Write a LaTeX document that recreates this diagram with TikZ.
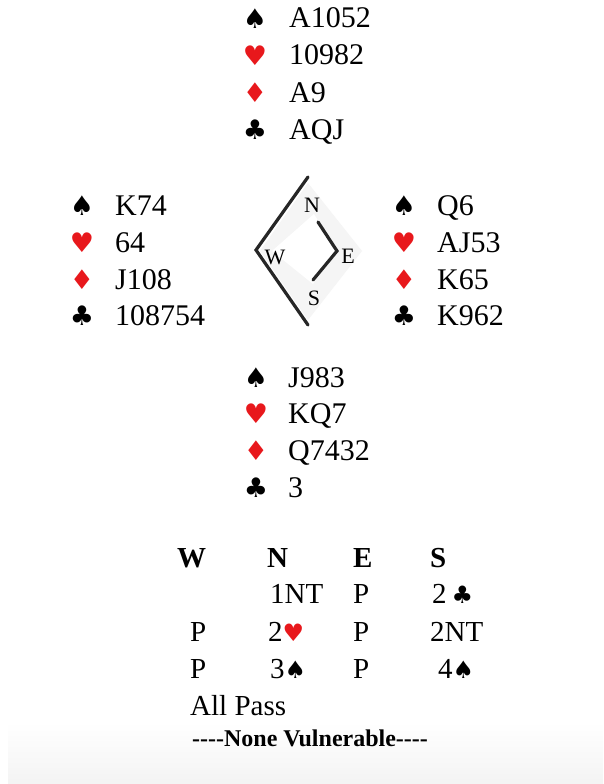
\documentclass[tikz,border=0pt]{standalone}
\usepackage{fontspec}
\setmainfont{Liberation Serif}
\newfontfamily\symfont{DejaVu Sans}
\definecolor{suitred}{RGB}{232,24,28}
\begin{document}
\begin{tikzpicture}[x=1pt,y=-1pt,
 txt/.style={anchor=base west, inner sep=0pt, font=\fontsize{30}{36}\selectfont},
 sym/.style={anchor=center, inner sep=0pt, font=\symfont\fontsize{27}{30}\selectfont},
 blk/.style={sym, text=black},
 rd/.style={sym, text=suitred},
 bid/.style={anchor=base west, inner sep=0pt, font=\fontsize{29}{34}\selectfont},
 hdr/.style={anchor=base west, inner sep=0pt, font=\bfseries\fontsize{29}{34}\selectfont},
 cmp/.style={anchor=center, inner sep=0pt, font=\fontsize{22}{24}\selectfont},
 compline/.style={line width=3.2pt, black!85, line cap=round}
 ]
\useasboundingbox (0,0) rectangle (603,784);
\fill[white] (0,0) rectangle (603,784);
\shade[top color=white, bottom color=gray!9] (8,722) rectangle (603,784);

% North
\node[blk] (nsp) at (255,19) {♠};   \node[txt] (nsx) at (289,28) {A1052};
\node[rd]  (nhe) at (255,56) {♥};   \node[txt] (nhx) at (289,65) {10982};
\node[rd]  (ndi) at (255,93) {♦};   \node[txt] (ndx) at (289,102) {A9};
\node[blk] (ncl) at (255,130) {♣};  \node[txt] (ncx) at (289,139) {AQJ};
% West
\node[blk] (wsp) at (82,206) {♠};   \node[txt] (wsx) at (115,215) {K74};
\node[rd]  (whe) at (82,243) {♥};   \node[txt] (whx) at (115,252) {64};
\node[rd]  (wdi) at (82,280) {♦};   \node[txt] (wdx) at (115,289) {J108};
\node[blk] (wcl) at (82,316) {♣};   \node[txt] (wcx) at (115,325) {108754};
% East
\node[blk] (esp) at (404,206) {♠};  \node[txt] (esx) at (437,215) {Q6};
\node[rd]  (ehe) at (404,243) {♥};  \node[txt] (ehx) at (437,252) {AJ53};
\node[rd]  (edi) at (404,280) {♦};  \node[txt] (edx) at (437,289) {K65};
\node[blk] (ecl) at (404,316) {♣};  \node[txt] (ecx) at (437,325) {K962};
% South
\node[blk] (ssp) at (256,378) {♠};  \node[txt] (ssx) at (288,387) {J983};
\node[rd]  (she) at (256,414) {♥};  \node[txt] (shx) at (288,423) {KQ7};
\node[rd]  (sdi) at (256,451) {♦};  \node[txt] (sdx) at (288,460) {Q7432};
\node[blk] (scl) at (256,488) {♣};  \node[txt] (scx) at (288,497) {3};

% Compass
\fill[gray!8] (308,183) -- (362,251) -- (308,320) -- (260,251) -- cycle;
\fill[white] (314,214) -- (336,251) -- (313,284) -- (272,251) -- cycle;
\draw[compline] (308,177) -- (256,250) -- (308,325);
\draw[compline] (318,222) -- (337,251) -- (313,280);
\node[cmp] (cN) at (312,205) {N};
\node[cmp] (cW) at (275,257) {W};
\node[cmp] (cE) at (348,256) {E};
\node[cmp] (cS) at (314,298) {S};

% Bidding
\node[hdr] (hW) at (177,567) {W};
\node[hdr] (hN) at (267,567) {N};
\node[hdr] (hE) at (353,567) {E};
\node[hdr] (hS) at (430,567) {S};

\node[bid] (b1N) at (270,603) {1NT};
\node[bid] (b1E) at (353,603) {P};
\node[bid] (b1S) at (432,603) {2\,{\symfont\fontsize{24}{26}\selectfont ♣}};

\node[bid] (b2W) at (190,641) {P};
\node[bid] (b2N) at (268,641) {2{\symfont\fontsize{24}{26}\selectfont\color{suitred}♥}};
\node[bid] (b2E) at (353,641) {P};
\node[bid] (b2S) at (430,641) {2NT};

\node[bid] (b3W) at (190,678) {P};
\node[bid] (b3N) at (270,678) {3{\symfont\fontsize{24}{26}\selectfont ♠}};
\node[bid] (b3E) at (353,678) {P};
\node[bid] (b3S) at (438,678) {4{\symfont\fontsize{24}{26}\selectfont ♠}};

\node[bid] (pass) at (190,715) {All Pass};
\node[anchor=base west, inner sep=0pt, font=\bfseries\fontsize{24}{28}\selectfont] (vul) at (192,746) {-{}-{}-{}-None Vulnerable-{}-{}-{}-};
\end{tikzpicture}
\end{document}
